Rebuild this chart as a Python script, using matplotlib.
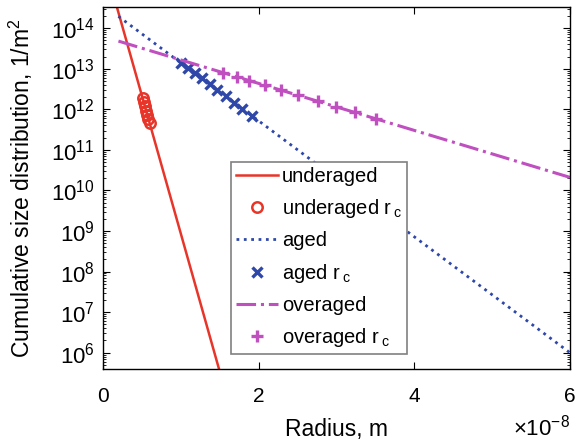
import numpy as np
import matplotlib
matplotlib.use("Agg")
import matplotlib.pyplot as plt
from matplotlib.ticker import FixedLocator, NullFormatter

plt.rcParams['font.family'] = ['Liberation Sans', 'DejaVu Sans']
plt.rcParams['mathtext.fontset'] = 'custom'
plt.rcParams['mathtext.rm'] = 'Liberation Sans'
plt.rcParams['mathtext.it'] = 'Liberation Sans'

# radius in units of 1e-8 m
r_under_line = [0.1, 1.6]
n_under_line = [1.16e15, 7.3e4]
r_under_pts = [0.51, 0.525, 0.54, 0.555, 0.57, 0.585, 0.60]
n_under_pts = [1.89e12, 1.49e12, 1.18e12, 9.3e11, 7.4e11, 5.8e11, 4.6e11]

r_aged_line = [0.2, 6.0]
n_aged_line = [1.95e14, 1.0e6]
r_aged_pts = [1.01, 1.09, 1.18, 1.27, 1.37, 1.47, 1.58, 1.69, 1.79, 1.91]
n_aged_pts = [1.36e13, 1.04e13, 7.7e12, 5.8e12, 4.1e12, 2.98e12, 2.07e12, 1.44e12, 1.04e12, 7.0e11]

r_over_line = [0.2, 6.0]
n_over_line = [4.8e13, 2.1e10]
r_over_pts = [1.54, 1.72, 1.88, 2.08, 2.29, 2.51, 2.76, 3.00, 3.24, 3.51]
n_over_pts = [8.0e12, 6.3e12, 5.1e12, 3.9e12, 2.97e12, 2.2e12, 1.6e12, 1.15e12, 8.4e11, 5.8e11]

decades = list(range(6, 15))

red = '#e8352a'
blue = '#2e47a8'
magenta = '#c04fc0'

fig = plt.figure(figsize=(5.78, 4.46), dpi=100)
ax = fig.add_axes([0.178, 0.173, 0.808, 0.811])

ax.plot(r_under_line, n_under_line, '-', color=red, lw=1.8, label='underaged')
ax.plot(r_under_pts, n_under_pts, 'o', color=red, mfc='none', ms=7.5, mew=1.8,
        linestyle='none', label=r'underaged r$\,_{\mathregular{c}}$')
ax.plot(r_aged_line, n_aged_line, ':', color=blue, lw=2.0, label='aged')
ax.plot(r_aged_pts, n_aged_pts, 'x', color=blue, ms=7, mew=2.4,
        linestyle='none', label=r'aged r$\,_{\mathregular{c}}$')
ax.plot(r_over_line, n_over_line, '-.', color=magenta, lw=2.2, label='overaged')
ax.plot(r_over_pts, n_over_pts, '+', color=magenta, ms=9, mew=2.4,
        linestyle='none', label=r'overaged r$\,_{\mathregular{c}}$')

ax.set_yscale('log')
ax.set_xlim(0, 6)
ax.set_ylim(4.0e5, 3.3e14)
ax.set_xticks([0, 2, 4, 6])
ax.set_xticklabels(['0', '2', '4', '6'])
major = [10.0 ** d for d in decades]
minor = [m * 10.0 ** d for d in range(5, 15) for m in range(2, 10)]
ax.yaxis.set_major_locator(FixedLocator(major))
ax.yaxis.set_minor_locator(FixedLocator(minor))
ax.set_yticklabels([r'10$^{\mathregular{%d}}$' % d for d in decades])
ax.yaxis.set_minor_formatter(NullFormatter())

ax.tick_params(which='both', direction='in', top=True, right=True)
ax.tick_params(axis='x', labelsize=15, pad=13)
ax.tick_params(axis='y', labelsize=16, pad=6)
ax.tick_params(which='major', length=5, width=0.8)
ax.tick_params(which='minor', length=2.5, width=0.6)
for s in ax.spines.values():
    s.set_linewidth(1.0)

ax.set_xlabel('Radius, m', fontsize=16.5, labelpad=9)
ax.set_ylabel(r'Cumulative size distribution, 1/m$^\mathregular{2}$', fontsize=16.5)
ax.yaxis.set_label_coords(-0.145, 0.5)
fig.text(0.986, 0.012, r'$\times$10$^\mathregular{-8}$', ha='right', va='bottom', fontsize=16)

leg = ax.legend(loc='upper left', bbox_to_anchor=(0.274, 0.571), fontsize=14.5,
                fancybox=False, edgecolor='#808080', framealpha=1,
                handlelength=2.1, handletextpad=0.2, borderpad=0.25,
                labelspacing=0.55, numpoints=1, borderaxespad=0)
leg.get_frame().set_linewidth(1.2)

fig.savefig('out.png', dpi=100)
